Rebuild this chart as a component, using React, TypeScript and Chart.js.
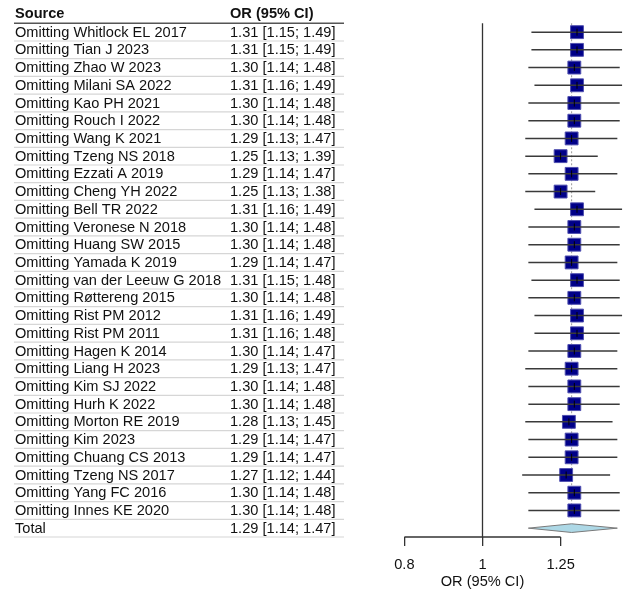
import React, { useEffect, useRef } from "react";
import { Chart, registerables } from "chart.js";

Chart.register(...registerables);

const studies = [
  "Omitting Whitlock EL 2017",
  "Omitting Tian J 2023",
  "Omitting Zhao W 2023",
  "Omitting Milani SA 2022",
  "Omitting Kao PH 2021",
  "Omitting Rouch I 2022",
  "Omitting Wang K 2021",
  "Omitting Tzeng NS 2018",
  "Omitting Ezzati A 2019",
  "Omitting Cheng YH 2022",
  "Omitting Bell TR 2022",
  "Omitting Veronese N 2018",
  "Omitting Huang SW 2015",
  "Omitting Yamada K 2019",
  "Omitting van der Leeuw G 2018",
  "Omitting Røttereng 2015",
  "Omitting Rist PM 2012",
  "Omitting Rist PM 2011",
  "Omitting Hagen K 2014",
  "Omitting Liang H 2023",
  "Omitting Kim SJ 2022",
  "Omitting Hurh K 2022",
  "Omitting Morton RE 2019",
  "Omitting Kim 2023",
  "Omitting Chuang CS 2013",
  "Omitting Tzeng NS 2017",
  "Omitting Yang FC 2016",
  "Omitting Innes KE 2020",
];
const orValues = [1.31, 1.31, 1.3, 1.31, 1.3, 1.3, 1.29, 1.25, 1.29, 1.25, 1.31, 1.3, 1.3, 1.29, 1.31, 1.3, 1.31, 1.31, 1.3, 1.29, 1.3, 1.3, 1.28, 1.29, 1.29, 1.27, 1.3, 1.3];
const lowerCI = [1.15, 1.15, 1.14, 1.16, 1.14, 1.14, 1.13, 1.13, 1.14, 1.13, 1.16, 1.14, 1.14, 1.14, 1.15, 1.14, 1.16, 1.16, 1.14, 1.13, 1.14, 1.14, 1.13, 1.14, 1.14, 1.12, 1.14, 1.14];
const upperCI = [1.49, 1.49, 1.48, 1.49, 1.48, 1.48, 1.47, 1.39, 1.47, 1.38, 1.49, 1.48, 1.48, 1.47, 1.48, 1.48, 1.49, 1.48, 1.47, 1.47, 1.48, 1.48, 1.45, 1.47, 1.47, 1.44, 1.48, 1.48];

const totalLabel = "Total";
const totalOR = 1.29;
const totalLower = 1.14;
const totalUpper = 1.47;

const xTickValues = [0.8, 1, 1.25];
const headerSource = "Source";
const headerOR = "OR (95% CI)";
const axisTitle = "OR (95% CI)";

const FONT = '"Liberation Sans", Arial, Helvetica, sans-serif';
const FSIZE = 14.6;

const fmt = (v: number) => v.toFixed(2);
const ciText = (o: number, l: number, u: number) => `${fmt(o)} [${fmt(l)}; ${fmt(u)}]`;

export default function App() {
  const ref = useRef<HTMLCanvasElement | null>(null);

  useEffect(() => {
    const canvas = ref.current;
    if (!canvas) return;
    const n = studies.length;

    const ciData: any[] = [];
    studies.forEach((_, i) => {
      ciData.push({ x: lowerCI[i], y: i });
      ciData.push({ x: upperCI[i], y: i });
      ciData.push({ x: null, y: null });
    });
    const pointData = orValues.map((v, i) => ({ x: v, y: i }));
    const dh = 0.245;
    const diamondData = [
      { x: totalLower, y: n },
      { x: totalOR, y: n - dh },
      { x: totalUpper, y: n },
      { x: totalOR, y: n + dh },
      { x: totalLower, y: n },
    ];

    const forestPlugin = {
      id: "forestExtras",
      beforeDatasetsDraw(chart: any) {
        const { ctx, chartArea } = chart;
        const xs = chart.scales.x;
        const ys = chart.scales.y;
        ctx.save();
        const x1 = xs.getPixelForValue(1);
        ctx.strokeStyle = "#333";
        ctx.lineWidth = 1.3;
        ctx.beginPath();
        ctx.moveTo(x1, ys.getPixelForValue(-0.5));
        ctx.lineTo(x1, chartArea.bottom);
        ctx.stroke();
        const xp = xs.getPixelForValue(totalOR);
        ctx.strokeStyle = "#9a9a9a";
        ctx.lineWidth = 1;
        ctx.setLineDash([2, 2]);
        ctx.beginPath();
        ctx.moveTo(xp, ys.getPixelForValue(-0.5));
        ctx.lineTo(xp, ys.getPixelForValue(n - 0.5));
        ctx.stroke();
        ctx.setLineDash([]);
        ctx.strokeStyle = "#333";
        ctx.lineWidth = 1.3;
        ctx.beginPath();
        ctx.moveTo(xs.getPixelForValue(xTickValues[0]), chartArea.bottom);
        ctx.lineTo(xs.getPixelForValue(xTickValues[xTickValues.length - 1]), chartArea.bottom);
        ctx.stroke();
        ctx.restore();
      },
      afterDraw(chart: any) {
        const { ctx } = chart;
        const xs = chart.scales.x;
        const ys = chart.scales.y;
        const colL = 15;
        const colR = 230;
        const lineL = 14;
        const lineR = 344;
        ctx.save();
        ctx.textBaseline = "middle";
        ctx.textAlign = "left";
        ctx.fillStyle = "#111";
        ctx.font = `bold ${FSIZE}px ${FONT}`;
        const hy = ys.getPixelForValue(-1);
        ctx.fillText(headerSource, colL, hy);
        ctx.fillText(headerOR, colR, hy);
        ctx.font = `${FSIZE}px ${FONT}`;
        ctx.strokeStyle = "#d6d6d6";
        ctx.lineWidth = 1.2;
        for (let i = 0; i <= n; i++) {
          const sy = ys.getPixelForValue(i + 0.5);
          ctx.beginPath();
          ctx.moveTo(lineL, sy);
          ctx.lineTo(lineR, sy);
          ctx.stroke();
        }
        ctx.strokeStyle = "#555";
        ctx.lineWidth = 1.6;
        const hl = ys.getPixelForValue(-0.5);
        ctx.beginPath();
        ctx.moveTo(lineL, hl);
        ctx.lineTo(lineR, hl);
        ctx.stroke();
        for (let i = 0; i < n; i++) {
          const ry = ys.getPixelForValue(i) + 0.5;
          ctx.fillText(studies[i], colL, ry);
          ctx.fillText(ciText(orValues[i], lowerCI[i], upperCI[i]), colR, ry);
        }
        const ty = ys.getPixelForValue(n) + 0.5;
        ctx.fillText(totalLabel, colL, ty);
        ctx.fillText(ciText(totalOR, totalLower, totalUpper), colR, ty);
        ctx.textAlign = "center";
        ctx.font = `${FSIZE}px ${FONT}`;
        ctx.fillText(axisTitle, xs.getPixelForValue(1), 582);
        ctx.restore();
      },
    };

    // x geometry: value 1 at ~482.5 px, ~350 px per log unit, chart area 380..630
    const xMin = Math.exp(-0.29286);
    const xMax = Math.exp(0.42143);

    const chart = new Chart(canvas, {
      type: "scatter",
      data: {
        datasets: [
          {
            label: "estimate",
            data: pointData,
            pointStyle: "line",
            rotation: 90,
            radius: 3.5,
            borderColor: "#000",
            borderWidth: 1,
            showLine: false,
            clip: false,
          } as any,
          {
            label: "ci",
            data: ciData,
            showLine: true,
            spanGaps: false,
            borderColor: "#3a3a3a",
            borderWidth: 1.5,
            pointRadius: 0,
            clip: false,
          } as any,
          {
            label: "or",
            data: pointData,
            pointStyle: "rect",
            radius: 9.1,
            backgroundColor: "#000088",
            borderColor: "#5050b0",
            borderWidth: 1,
            showLine: false,
            clip: false,
          } as any,
          {
            label: "total",
            type: "line",
            data: diamondData,
            borderColor: "#7a7a7a",
            borderWidth: 1,
            backgroundColor: "#add8e6",
            fill: "shape",
            pointRadius: 0,
            tension: 0,
            clip: false,
          } as any,
        ],
      },
      options: {
        responsive: false,
        animation: false,
        events: [],
        layout: { autoPadding: false, padding: { left: 380, right: 2, top: 14.43, bottom: 0 } },
        plugins: {
          legend: { display: false },
          tooltip: { enabled: false },
        },
        scales: {
          x: {
            type: "logarithmic",
            min: xMin,
            max: xMax,
            offset: false,
            afterBuildTicks: (scale: any) => {
              scale.ticks = xTickValues.map((v) => ({ value: v }));
            },
            afterFit: (scale: any) => {
              scale.height = 57;
              scale.paddingLeft = 0;
              scale.paddingRight = 0;
            },
            ticks: {
              autoSkip: false,
              maxRotation: 0,
              padding: 10,
              color: "#111",
              font: { family: FONT, size: FSIZE },
              callback: (v: any) => String(v),
            },
            grid: {
              drawOnChartArea: false,
              drawTicks: true,
              tickLength: 9,
              color: "#333",
              lineWidth: 1.3,
            },
            border: { display: false },
            title: { display: false },
          },
          y: {
            type: "linear",
            display: false,
            reverse: true,
            min: -1,
            max: n + 0.5,
          },
        },
      } as any,
      plugins: [forestPlugin],
    });

    return () => chart.destroy();
  }, []);

  return (
    <div style={{ position: "fixed", left: 0, top: 0, width: 632, height: 594, background: "#fff" }}>
      <canvas ref={ref} width={632} height={594} style={{ display: "block", width: 632, height: 594 }} />
    </div>
  );
}
